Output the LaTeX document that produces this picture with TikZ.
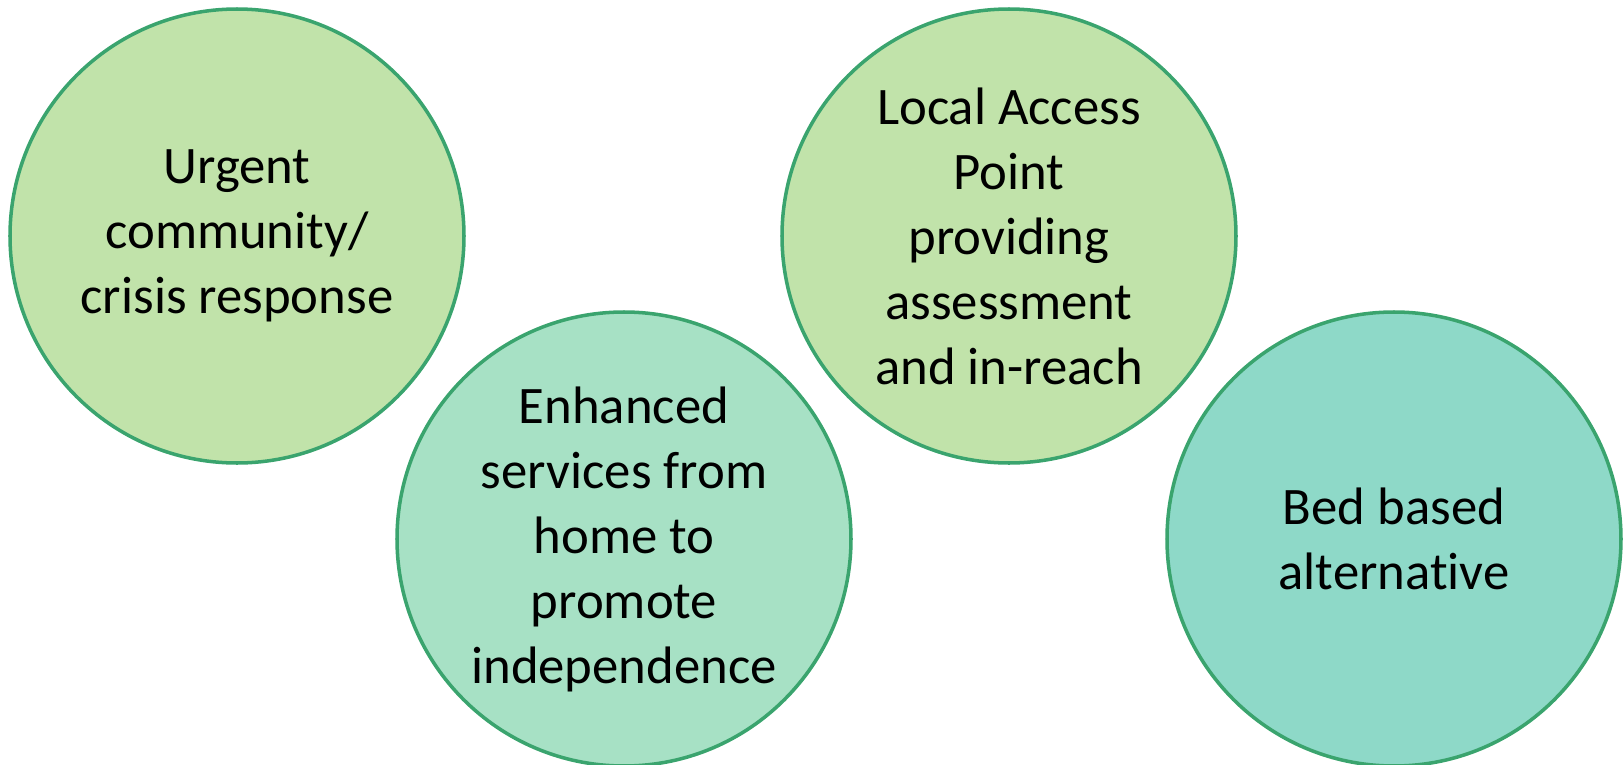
\documentclass[tikz,border=0pt]{standalone}
\usepackage{fontspec}
\setmainfont{Carlito}[Ligatures=NoCommon]
\usepackage{tikz}

\definecolor{ringgreen}{HTML}{3AA46E}
\definecolor{limefill}{HTML}{C1E3AA}
\definecolor{mintfill}{HTML}{A7E1C5}
\definecolor{tealfill}{HTML}{8ED9C8}

\begin{document}
\begin{tikzpicture}[>=latex, bubble/.style = {circle, draw = ringgreen, line width = 1pt, minimum size = 4.54cm, inner sep = 0pt, align = center, font = \fontsize{15}{18.5}\selectfont}]
	\useasboundingbox (0,0) rectangle (16.24,7.64);
	\node [bubble, fill = limefill] (urgent) at (2.37,5.28) {Urgent\\ community/\\ crisis response};
	\node [bubble, fill = mintfill] (enhanced) at (6.24,2.25) {Enhanced\\ services from\\ home to\\ promote\\ independence};
	\node [bubble, fill = limefill] (access) at (10.09,5.28) {Local Access\\ Point\\ providing\\ assessment\\ and in-reach};
	\node [bubble, fill = tealfill] (bed) at (13.94,2.25) {Bed based\\ alternative};
\end{tikzpicture}
\end{document}
